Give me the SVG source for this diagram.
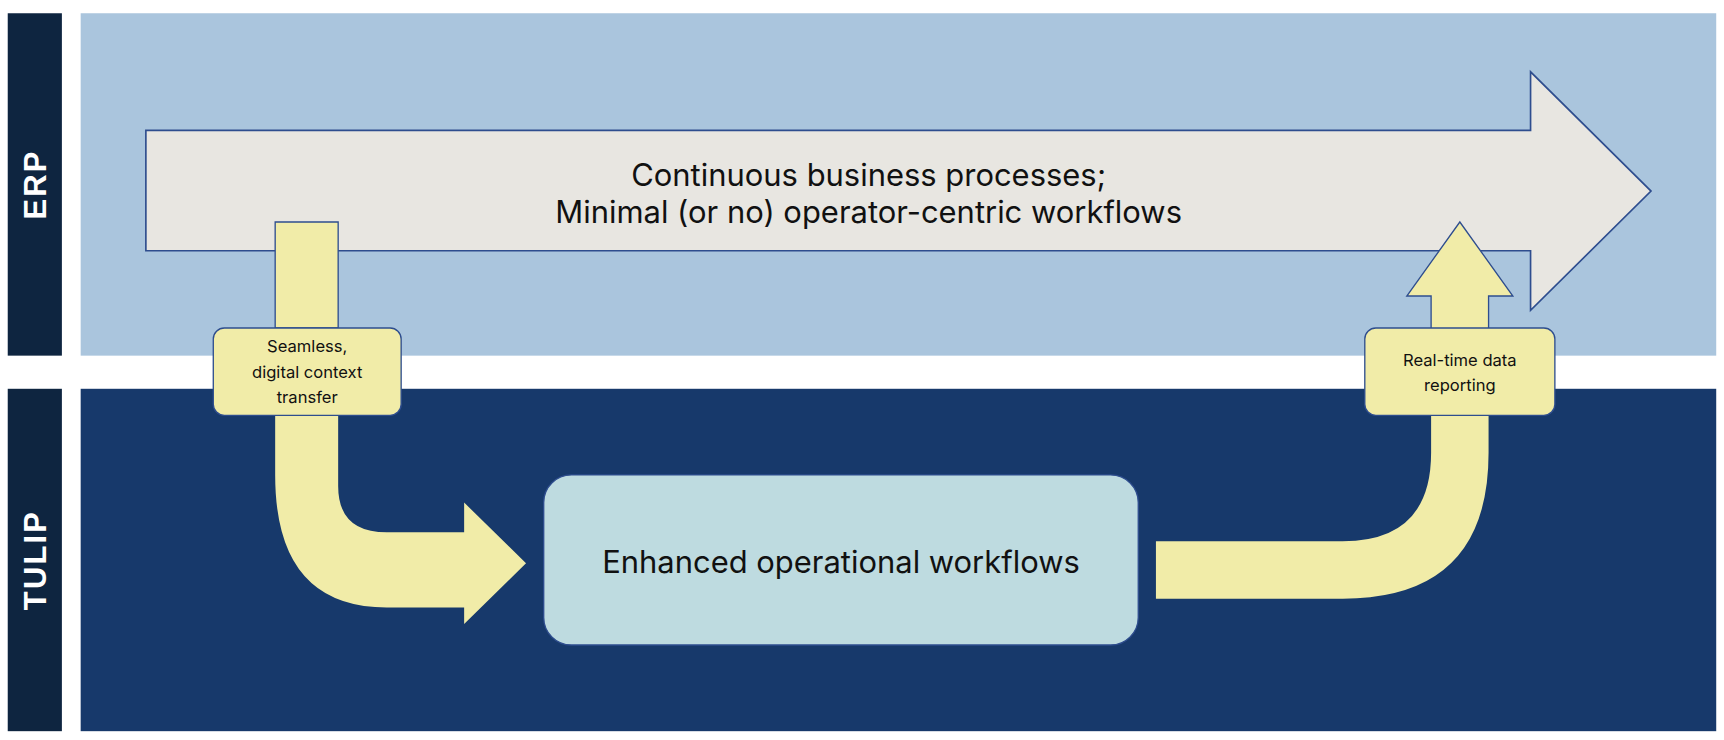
<svg xmlns="http://www.w3.org/2000/svg" width="1724" height="740" viewBox="0 0 1724 740">
<style>
.lbl{font-family:"Liberation Sans",Arial,sans-serif;font-weight:bold;fill:#fff;font-size:28px;letter-spacing:2px}
.t{font-family:Inter,"Liberation Sans",sans-serif;fill:#111}
.big{font-size:28px}
.sm{font-size:15px}
.y{fill:#f1eca8}
.ys{fill:#f1eca8;stroke:#2e4d8e;stroke-width:1.2}
</style>
<rect width="1724" height="740" fill="#fff"/>
<g transform="scale(1.1051,1.1045)">
<g id="erp-lane">
<rect x="7" y="12" width="49" height="310" fill="#0e2540"/>
<rect x="73" y="12" width="1480" height="310" fill="#aac5dd"/>
<text class="lbl" transform="translate(42,167) rotate(-90)" text-anchor="middle">ERP</text>
</g>
<g id="tulip-lane">
<rect x="7" y="352" width="49" height="310" fill="#0e2540"/>
<rect x="73" y="352" width="1480" height="310" fill="#17396b"/>
<text class="lbl" transform="translate(42,507) rotate(-90)" text-anchor="middle">TULIP</text>
</g>
<g id="erp-process">
<polygon points="132,118 1385,118 1385,65 1494,173 1385,281 1385,227 132,227" fill="#e8e6e1" stroke="#2e4d8e" stroke-width="1.5"/>
<text class="t big" x="786" y="168" text-anchor="middle">Continuous business processes;</text>
<text class="t big" x="786" y="202" text-anchor="middle">Minimal (or no) operator-centric workflows</text>
</g>
<g id="connectors">
<path class="ys" d="M249,201 H306 V297 H249 Z"/>
<path class="y" d="M249,376 H306 V440 Q306,482 350,482 H420 V455 L476,510 L420,565 V550 H350 Q249,550 249,430 Z"/>
<path class="y" d="M1046,490 H1215 Q1295,490 1295,410 V376 H1347 V410 Q1347,542 1215,542 H1046 Z"/>
<path class="ys" d="M1295,297 V268 H1273 L1321,201 L1369,268 H1347 V297"/>
</g>
<g id="label-context">
<rect x="193" y="297" width="170" height="79" rx="10" class="ys"/>
<text class="t sm" x="278" y="319" text-anchor="middle">Seamless,</text>
<text class="t sm" x="278" y="342" text-anchor="middle">digital context</text>
<text class="t sm" x="278" y="365" text-anchor="middle">transfer</text>
</g>
<g id="label-reporting">
<rect x="1235" y="297" width="172" height="79" rx="10" class="ys"/>
<text class="t sm" x="1321" y="331" text-anchor="middle">Real-time data</text>
<text class="t sm" x="1321" y="354" text-anchor="middle">reporting</text>
</g>
<g id="enhanced">
<rect x="492" y="430" width="538" height="154" rx="25" fill="#bedbe0" stroke="#2e4d8e" stroke-width="1.2"/>
<text class="t big" x="761" y="519" text-anchor="middle">Enhanced operational workflows</text>
</g>
</g>
</svg>
